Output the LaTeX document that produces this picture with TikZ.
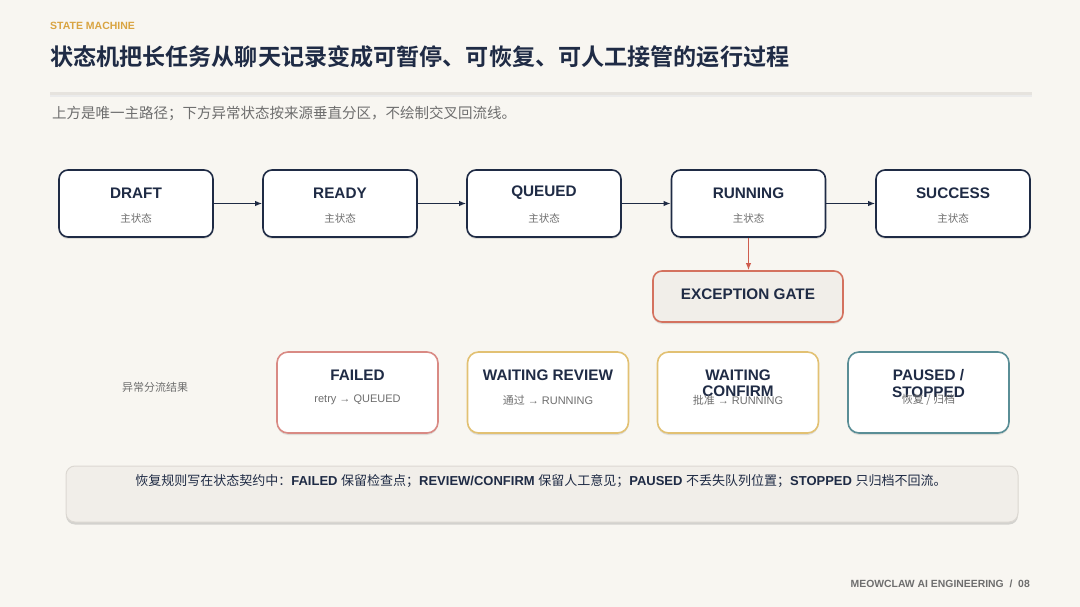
\documentclass[tikz,border=0pt]{standalone}
\usepackage{fontspec}
\setmainfont{Liberation Sans}
\newfontfamily\cjk{Noto Sans CJK SC}
\newfontfamily\cjkb{Noto Sans CJK SC}[BoldFont={* Bold}]
\usetikzlibrary{arrows.meta,shadows,calc}
\definecolor{bgc}{HTML}{F8F6F1}
\definecolor{navy}{HTML}{1F2B45}
\definecolor{graytxt}{HTML}{6E6E6E}
\definecolor{orng}{HTML}{D9A441}
\definecolor{redb}{HTML}{D98A84}
\definecolor{exb}{HTML}{D4725F}
\definecolor{exarrow}{HTML}{CF5D4E}
\definecolor{goldb}{HTML}{E2C173}
\definecolor{tealb}{HTML}{5A8E96}
\definecolor{notefill}{HTML}{F1EEE9}
\definecolor{noteb}{HTML}{DCD8D2}
\definecolor{sepc}{HTML}{E6E3DE}
\tikzset{
  shd/.style={drop shadow={shadow xshift=0pt,shadow yshift=-2pt,opacity=0.18,fill=black!60}},
  topbox/.style={draw=navy,line width=1.6pt,fill=white,rounded corners=9pt,minimum width=154pt,minimum height=67pt,shd},
  botbox/.style={line width=1.6pt,fill=white,rounded corners=11pt,minimum width=161pt,minimum height=81pt,shd},
  ttl/.style={inner sep=0pt,text=navy,font=\fontsize{15.3}{16.5}\selectfont\bfseries,align=center},
  sub/.style={inner sep=0pt,text=graytxt,font=\fontsize{11}{13}\selectfont},
  flow/.style={-{Latex[length=7pt,width=5.5pt]},line width=1.8pt,draw=navy},
}
\begin{document}
\begin{tikzpicture}[x=1pt,y=-1pt]
\fill[bgc] (0,0) rectangle (1080,607);
\useasboundingbox (0,0) rectangle (1080,607);
% header
\node[anchor=west,inner sep=0pt,text=orng,font=\fontsize{10.5}{12}\selectfont\bfseries] (kicker) at (50,26) {STATE MACHINE};
\node[anchor=west,inner sep=0pt,text=navy,font=\fontsize{23.1}{26}\selectfont\cjkb\bfseries] (title) at (50,57) {状态机把长任务从聊天记录变成可暂停、可恢复、可人工接管的运行过程};
\fill[black!8] (50,95) rectangle (1032,97);
\fill[sepc] (50,92.5) rectangle (1032,95.5);
\node[anchor=west,inner sep=0pt,text=graytxt,font=\fontsize{14.5}{16}\selectfont\cjk] (subt) at (52,114) {上方是唯一主路径；下方异常状态按来源垂直分区，不绘制交叉回流线。};
% top states
\foreach \n/\t/\x in {draft/DRAFT/136, ready/READY/340, queued/QUEUED/544, running/RUNNING/748.5, success/SUCCESS/953}{
  \node[topbox] (\n) at (\x,203.5) {};
  \node[ttl] (\n-t) at ($(\n.center)+(0,-10.5)$) {\t};
  \node[sub,font=\fontsize{10.5}{12}\selectfont\cjk] (\n-s) at ($(\n.center)+(0,14.5)$) {主状态};
}
\draw[flow] (draft.east) -- (ready.west);
\draw[flow] (ready.east) -- (queued.west);
\draw[flow] (queued.east) -- (running.west);
\draw[flow] (running.east) -- (success.west);
% exception gate
\node[draw=exb,line width=1.6pt,fill=notefill,rounded corners=9pt,minimum width=190pt,minimum height=51pt,shd] (gate) at (748,296.5) {};
\node[ttl] (gate-t) at ($(gate.center)+(0,-2.5)$) {EXCEPTION GATE};
\draw[-{Latex[length=7pt,width=5.5pt]},line width=1.8pt,draw=exarrow] (running.south) -- (running.south |- gate.north);
% bottom states
\node[inner sep=0pt,text=graytxt,font=\fontsize{11}{13}\selectfont\cjk] (lbl) at (155,387) {异常分流结果};
\node[botbox,draw=redb] (failed) at (357.5,392.5) {};
\node[botbox,draw=goldb] (review) at (548,392.5) {};
\node[botbox,draw=goldb] (confirm) at (738,392.5) {};
\node[botbox,draw=tealb] (paused) at (928.5,392.5) {};
\node[ttl,anchor=north] (failed-t) at ($(failed.center)+(0,-23)$) {FAILED};
\node[ttl,anchor=north] (review-t) at ($(review.center)+(0,-23)$) {WAITING REVIEW};
\node[ttl,anchor=north] (confirm-t) at ($(confirm.center)+(0,-23)$) {WAITING\\CONFIRM};
\node[ttl,anchor=north] (paused-t) at ($(paused.center)+(0,-23)$) {PAUSED /\\STOPPED};
\node[sub] (failed-s) at ($(failed.center)+(0,7.5)$) {retry → QUEUED};
\node[sub] (review-s) at ($(review.center)+(0,7.5)$) {{\cjk 通过} → RUNNING};
\node[sub] (confirm-s) at ($(confirm.center)+(0,7.5)$) {{\cjk 批准} → RUNNING};
\node[sub] (paused-s) at ($(paused.center)+(0,7.5)$) {{\cjk 恢复 / 归档}};
% note
\node[draw=noteb,line width=1pt,fill=notefill,rounded corners=9pt,minimum width=952pt,minimum height=56pt,drop shadow={shadow xshift=0pt,shadow yshift=-2.5pt,opacity=0.3,fill=black!50}] (note) at (542,494) {};
\node[inner sep=0pt,text=navy,font=\fontsize{13}{15}\selectfont] (note-t) at (541,481) {{\cjk 恢复规则写在状态契约中：}\textbf{FAILED} {\cjk 保留检查点；}\textbf{REVIEW/CONFIRM} {\cjk 保留人工意见；}\textbf{PAUSED} {\cjk 不丢失队列位置；}\textbf{STOPPED} {\cjk 只归档不回流。}};
% footer
\node[anchor=east,inner sep=0pt,text=graytxt,font=\fontsize{10.4}{12}\selectfont\bfseries] (foot) at (1030,584) {MEOWCLAW AI ENGINEERING~~/~~08};
\end{tikzpicture}
\end{document}
